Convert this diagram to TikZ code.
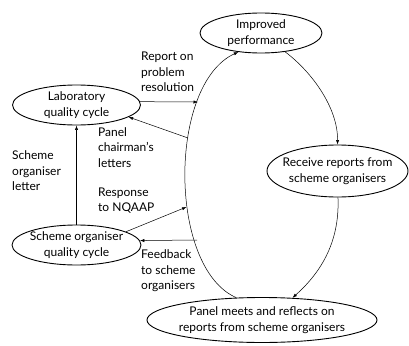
\documentclass[tikz,border=0pt]{standalone}
\usepackage{fontspec}
\setmainfont{Lato}
\usetikzlibrary{shapes.geometric,arrows.meta}
\begin{document}
\begin{tikzpicture}[x=1pt, y=-1pt, font=\fontsize{12}{15.5}\selectfont,
  cyc/.style={ellipse, draw, line width=0.9pt, align=center, inner xsep=-10pt, inner ysep=0pt},
  lbl/.style={anchor=west, align=left, inner sep=0pt},
  arr/.style={line width=0.5pt, -{Latex[length=4.5pt,width=3.2pt]}}]
  \useasboundingbox (0,0) rectangle (409,345);
  % stages of the cycle (y runs downwards)
  \node[cyc, minimum width=122pt, minimum height=40pt] (impr) at (261,33) {Improved\\performance};
  \node[cyc, minimum width=141pt, minimum height=52pt] (recv) at (337.5,171) {Receive reports from\\scheme organisers};
  \node[cyc, minimum width=230pt, minimum height=45pt] (panel) at (262,320) {Panel meets and reflects on\\reports from scheme organisers};
  \node[cyc, minimum width=128pt, minimum height=40pt] (lab) at (76.5,105) {Laboratory\\quality cycle};
  \node[cyc, minimum width=129pt, minimum height=40pt] (so) at (76.5,245) {Scheme organiser\\quality cycle};
  % points where the side arrows meet the big arc
  \coordinate (rpt) at (198,102);
  \coordinate (chl) at (188,138);
  \coordinate (rsp) at (186.5,207);
  \coordinate (fdb) at (197,240);
  % the cycle itself
  \draw[arr] (panel.139) .. controls (168,268) and (168,84) .. (impr.220);
  \draw[arr] (impr.322) .. controls (312,72) and (338,108) .. (recv.90);
  \draw[arr] (recv.271) .. controls (340,245) and (318,275) .. (panel.36);
  % side arrows
  \draw[arr] (lab.3) -- (rpt);
  \draw[arr] (chl) -- (lab.347);
  \draw[arr] (so.north) -- (lab.south);
  \draw[arr] (so.15) -- (rsp);
  \draw[arr] (fdb) -- (so.4);
  % labels
  \node[lbl] (trpt) at (141,72) {Report on\\problem\\resolution};
  \node[lbl] (tchl) at (98,147.5) {Panel\\chairman's\\letters};
  \node[lbl] (tsol) at (12,171) {Scheme\\organiser\\letter};
  \node[lbl] (trsp) at (98,200.5) {Response\\to NQAAP};
  \node[lbl] (tfdb) at (141,271) {Feedback\\to scheme\\organisers};
\end{tikzpicture}
\end{document}
